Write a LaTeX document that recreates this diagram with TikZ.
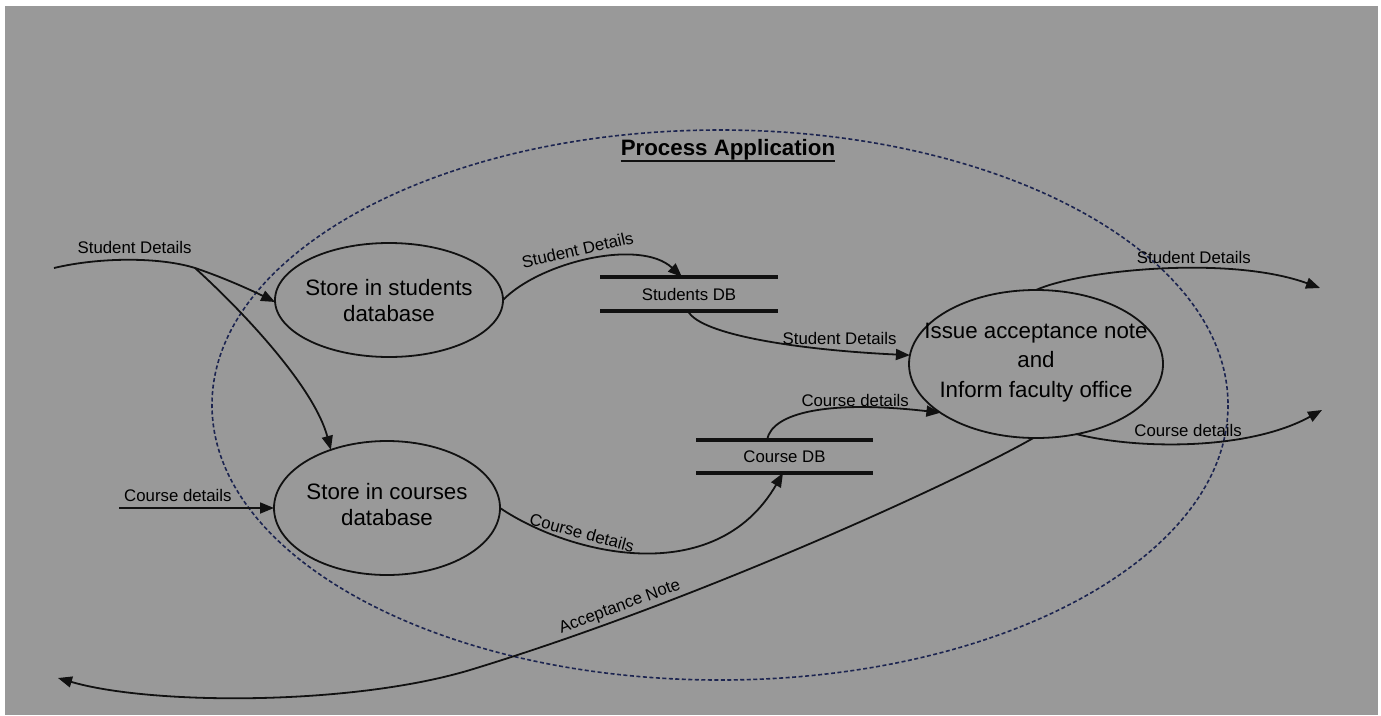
\documentclass[tikz,border=0pt]{standalone}
\usepackage{fontspec}
\setmainfont{Liberation Sans}
\usetikzlibrary{arrows.meta,shapes.geometric}
\definecolor{canvas}{HTML}{999999}
\definecolor{ink}{HTML}{111111}
\definecolor{boundary}{HTML}{1C2450}
\begin{document}
\begin{tikzpicture}[x=1pt,y=-1pt,
  proc/.style={ellipse, draw=ink, line width=1.8pt, inner sep=0pt, outer sep=0pt},
  proctext/.style={align=center, inner sep=0pt, text=black, font=\fontsize{22.3}{26}\selectfont},
  store/.style={inner sep=0pt, outer sep=0pt, text=black, font=\fontsize{16.8}{19}\selectfont},
  dbline/.style={draw=ink, line width=3.5pt},
  flow/.style={draw=ink, line width=1.8pt, -{Triangle[length=14pt,width=11pt]}},
  plain/.style={draw=ink, line width=1.8pt},
  lab/.style={font=\fontsize{16.8}{19}\selectfont, inner sep=0pt, text=black},
]
\useasboundingbox (0,0) rectangle (1381,715);
\fill[white] (0,0) rectangle (1381,715);
\fill[canvas] (5,6) rectangle (1378,715);

% process boundary
\draw[boundary, line width=1.6pt, dash pattern=on 4pt off 2.5pt]
  (720,405) ellipse [x radius=508, y radius=275];
\node[inner sep=0pt, anchor=base, text=black, font=\bfseries\fontsize{22.3}{26}\selectfont]
  (title) at (728,155) {Process Application};
\draw[ink, line width=2pt] ([yshift=-6pt]title.base west) -- ([yshift=-6pt]title.base east);

% processes
\node[proc, minimum width=228, minimum height=114] (stu) at (389,300) {};
\node[proctext] (stutext) at (389,300.5) {Store in students\\database};
\node[proc, minimum width=226, minimum height=134] (cou) at (387,508) {};
\node[proctext] (coutext) at (387,505) {Store in courses\\database};
\node[proc, minimum width=254, minimum height=148] (iss) at (1036,364) {};
\node[proctext, font=\fontsize{22.3}{29.5}\selectfont] (isstext) at (1036,362.5)
  {Issue acceptance note\\and\\Inform faculty office};

% data stores
\node[store, minimum width=178, minimum height=34] (sdb) at (689,294) {Students DB};
\node[store, minimum width=177, minimum height=33] (cdb) at (784.5,456.5) {Course DB};
\foreach \d in {sdb,cdb} {
  \draw[dbline] (\d.north west) -- (\d.north east);
  \draw[dbline] (\d.south west) -- (\d.south east);
}

% external ends
\coordinate (sdin) at (54,268);
\coordinate (split) at (195,268);
\coordinate (cdin) at (119,508);
\coordinate (sdout) at (1320,288);
\coordinate (cdout) at (1322,410);
\coordinate (accout) at (58,678);

% incoming flows
\draw[plain] (sdin) .. controls (100,257) and (160,257) .. (split)
  node[lab, pos=0.54, above=5pt] (l1) {Student Details};
\draw[flow] (split) .. controls (225,278) and (255,292) .. (stu.181);
\draw[flow] (split) .. controls (250,318) and (315,390) .. (cou.134);
\draw[flow] (cdin) -- (cou.west) node[lab, pos=0.38, above=5pt] (l2) {Course details};

% internal flows
\draw[flow] (stu.east) .. controls (540,262) and (640,238) .. ([xshift=-7pt]sdb.north)
  node[lab, sloped, pos=0.45, above=5pt] (l3) {Student Details};
\draw[flow] ([xshift=-1pt]sdb.south) .. controls (700,335) and (800,350) .. (iss.176)
  node[lab, pos=0.78, above=5pt] (l4) {Student Details};
\draw[flow] (cou.east) .. controls (570,555) and (715,590) .. ([xshift=-1.5pt]cdb.south)
  node[lab, sloped, pos=0.3, above=4pt] (l5) {Course details};
\draw[flow] ([xshift=-17.5pt]cdb.north) .. controls (772,412) and (830,400) .. (iss.207)
  node[lab, pos=0.7, above=0pt] (l6) {Course details};

% outgoing flows
\draw[flow] (iss.north) .. controls (1080,270) and (1230,255) .. (sdout)
  node[lab, pos=0.6, above=4pt] (l7) {Student Details};
\draw[flow] (iss.300) .. controls (1140,450) and (1250,450) .. (cdout)
  node[lab, pos=0.47, above=6pt] (l8) {Course details};
\draw[flow] (iss.268) .. controls (960,480) and (700,600) .. (470,670)
  node[lab, sloped, pos=0.78, above=3pt] (l9) {Acceptance Note}
  .. controls (350,706) and (150,705) .. (accout);
\end{tikzpicture}
\end{document}
